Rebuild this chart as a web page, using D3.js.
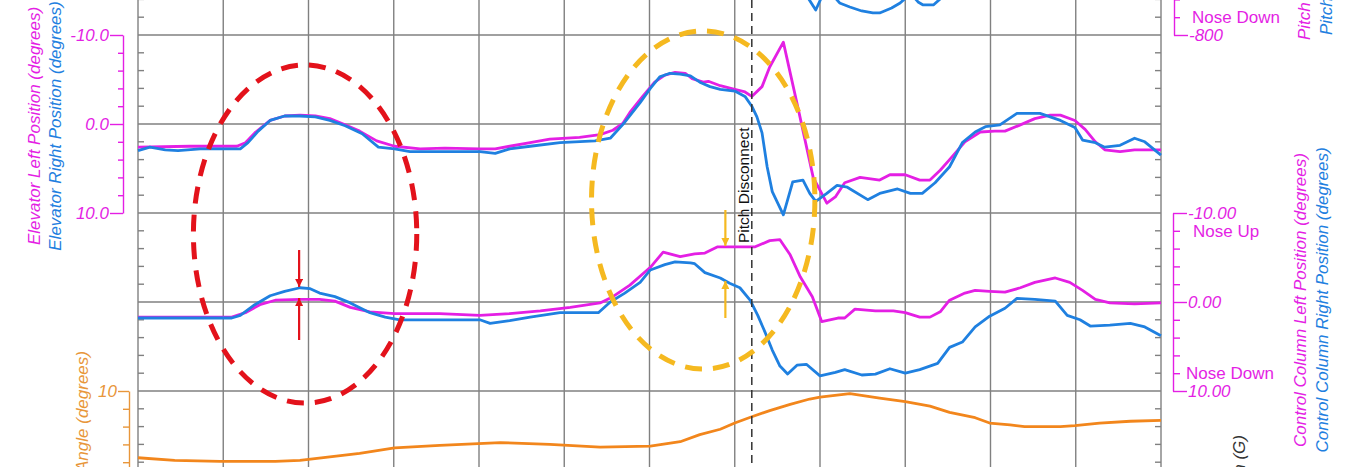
<!DOCTYPE html>
<html>
<head>
<meta charset="utf-8">
<script src="https://cdn.jsdelivr.net/npm/d3@7"></script>
<style>
  body { margin: 0; background: #fff; overflow: hidden; }
  svg text { font-family: "Liberation Sans", Arial, sans-serif; }
</style>
</head>
<body>
<script>
// time in seconds (one grid column = 1 s), values in each panel's units
const elevLeft = [[0,2.6],[0.61,2.5],[1.16,2.5],[1.26,2.1],[1.37,1.0],[1.55,-0.4],[1.72,-0.9],[1.90,-1.0],[2.08,-0.9],[2.25,-0.6],[2.43,0.1],[2.60,0.8],[2.80,1.9],[3.01,2.5],[3.31,2.8],[3.60,2.7],[4.01,2.8],[4.19,2.8],[4.36,2.5],[4.60,2.1],[4.83,1.7],[5.18,1.5],[5.42,1.2],[5.57,0.7],[5.69,-0.1],[5.77,-1.3],[5.92,-3.1],[6.06,-4.7],[6.18,-5.5],[6.30,-5.8],[6.42,-5.7],[6.50,-5.1],[6.63,-4.7],[6.69,-4.8],[6.83,-4.3],[7.00,-3.9],[7.12,-3.6],[7.20,-3.1],[7.32,-4.2],[7.41,-6.4],[7.57,-9.2],[7.74,-1.9],[7.92,6.0],[8.08,8.9],[8.18,8.2],[8.29,6.6],[8.47,6.0],[8.70,6.3],[8.82,5.7],[9.00,5.7],[9.17,6.3],[9.29,6.3],[9.41,5.2],[9.52,4.0],[9.70,2.0],[9.88,0.9],[10.05,0.8],[10.17,0.8],[10.35,0.1],[10.52,-0.6],[10.70,-1.0],[10.82,-1.0],[10.99,-0.4],[11.11,0.6],[11.23,2.0],[11.34,2.9],[11.52,3.1],[11.69,2.9],[12.00,2.9]];

const elevRight = [[0,3.0],[0.14,2.6],[0.32,2.9],[0.47,3.0],[0.73,2.8],[1.20,2.8],[1.29,2.1],[1.41,0.8],[1.55,-0.4],[1.72,-0.9],[1.90,-0.9],[2.08,-0.8],[2.25,-0.4],[2.43,0.2],[2.63,1.1],[2.82,2.6],[3.01,2.8],[3.19,3.1],[3.54,3.1],[4.01,3.1],[4.19,3.3],[4.36,2.8],[4.60,2.5],[4.95,2.1],[5.36,1.9],[5.54,1.6],[5.71,-0.2],[5.89,-2.4],[6.01,-4.0],[6.12,-5.3],[6.24,-5.7],[6.36,-5.6],[6.48,-5.4],[6.59,-4.7],[6.71,-4.2],[6.83,-3.9],[7.00,-3.7],[7.12,-3.1],[7.20,-2.0],[7.26,-0.8],[7.32,1.0],[7.38,4.8],[7.44,7.6],[7.57,10.2],[7.68,6.5],[7.80,6.3],[7.88,7.8],[7.95,8.7],[8.08,7.8],[8.20,6.9],[8.32,7.1],[8.56,8.5],[8.70,7.8],[8.91,7.3],[9.06,7.8],[9.20,7.8],[9.35,6.6],[9.52,4.8],[9.67,2.1],[9.82,0.9],[9.94,0.3],[10.11,0.1],[10.31,-1.2],[10.58,-1.2],[10.82,-0.4],[10.99,0.4],[11.08,1.8],[11.23,2.1],[11.34,2.6],[11.52,2.4],[11.69,1.6],[11.81,2.0],[12.00,3.5]];

const colLeft = [[0,1.7],[0.49,1.7],[1.10,1.7],[1.26,1.2],[1.43,0.3],[1.61,-0.2],[1.90,-0.3],[2.13,-0.3],[2.31,-0.1],[2.49,0.6],[2.72,1.1],[3.01,1.3],[3.54,1.3],[4.01,1.5],[4.36,1.3],[4.72,1.0],[5.07,0.6],[5.42,0.1],[5.57,-0.6],[5.77,-1.9],[6.01,-3.9],[6.16,-5.6],[6.36,-5.1],[6.53,-5.4],[6.65,-5.5],[6.80,-6.2],[7.24,-6.2],[7.41,-6.9],[7.53,-7.0],[7.65,-5.3],[7.77,-2.8],[7.91,-0.6],[8.02,2.2],[8.21,1.8],[8.29,1.8],[8.41,0.8],[8.65,1.0],[8.86,1.0],[9.00,1.2],[9.17,1.7],[9.29,1.7],[9.41,1.1],[9.52,-0.2],[9.70,-1.0],[9.82,-1.3],[9.99,-1.2],[10.17,-1.1],[10.35,-1.6],[10.52,-2.2],[10.76,-2.7],[10.93,-2.2],[11.08,-1.3],[11.23,-0.3],[11.40,0.1],[11.69,0.2],[12.00,0.1]];

const colRight = [[0,1.8],[1.10,1.8],[1.20,1.5],[1.37,0.3],[1.55,-0.7],[1.72,-1.2],[1.90,-1.6],[2.02,-1.5],[2.13,-1.0],[2.31,-0.6],[2.49,0.1],[2.72,1.2],[2.90,1.7],[3.07,2.0],[3.66,2.0],[4.01,2.0],[4.13,2.4],[4.36,2.1],[4.60,1.7],[4.95,1.2],[5.40,1.2],[5.54,0.0],[5.71,-1.0],[5.89,-2.2],[6.01,-3.6],[6.18,-4.2],[6.30,-4.5],[6.48,-4.4],[6.53,-4.3],[6.65,-3.3],[6.83,-2.7],[6.94,-2.1],[7.06,-1.6],[7.18,-0.2],[7.27,1.5],[7.36,3.5],[7.44,5.4],[7.53,7.2],[7.62,8.1],[7.73,7.1],[7.84,7.0],[8.00,8.3],[8.18,7.9],[8.29,7.6],[8.49,8.2],[8.65,8.1],[8.82,7.5],[9.00,8.0],[9.17,7.6],[9.38,6.9],[9.52,5.1],[9.67,4.5],[9.82,2.8],[9.99,1.6],[10.17,0.7],[10.31,-0.4],[10.52,-0.3],[10.76,-0.1],[10.90,1.5],[11.05,2.0],[11.17,2.7],[11.40,2.6],[11.64,2.4],[11.81,2.8],[12.00,3.8]];

const pitchAngle = [[0,2.5],[0.43,2.2],[0.96,2.1],[1.61,2.1],[1.90,2.2],[2.25,2.6],[2.60,3.0],[3.01,3.6],[3.54,3.9],[4.25,4.2],[4.83,4.0],[5.42,3.7],[6.01,3.8],[6.36,4.3],[6.59,5.1],[6.83,5.7],[7.00,6.4],[7.20,7.1],[7.41,7.8],[7.65,8.5],[7.88,9.1],[8.00,9.3],[8.35,9.7],[8.70,9.2],[9.00,8.8],[9.29,8.3],[9.52,7.6],[9.82,7.0],[9.99,6.4],[10.23,6.2],[10.40,6.0],[10.82,6.0],[10.99,6.1],[11.28,6.4],[11.64,6.6],[12.00,6.7]];

// only the lowest part of this trace shows at the top edge
const pitchForceRight = [[7.65,-261],[7.77,-377],[7.86,-467],[7.95,-575],[8.02,-458],[8.14,-431],[8.23,-512],[8.35,-548],[8.49,-584],[8.62,-602],[8.70,-602],[8.84,-557],[8.94,-512],[9.02,-458],[9.08,-440],[9.15,-503],[9.21,-530],[9.33,-530],[9.41,-476],[9.50,-395],[9.64,-261]];

const disconnectTime = 7.20;
const elevTicks = [-10, 0, 10];
const colTicks = [-10, 0, 10];
const angleTicks = [10];
const forceTicks = [-800];

const magenta = '#e41fe4', blue = '#1f80e0', orange = '#f2861c', orangeText = '#e8963a';
const red = '#e3121b', gold = '#f5b920';

const W = 1358, H = 467;
const svg = d3.select('body').append('svg').attr('width', W).attr('height', H);

const x = d3.scaleLinear().domain([0, 12]).range([138, 1161]);
const yElev = d3.scaleLinear().domain([-10, 10]).range([35, 213]);
const yCol = d3.scaleLinear().domain([-10, 10]).range([213, 391]);
const yAng = d3.scaleLinear().domain([0, 10]).range([480, 391]);
const yForce = d3.scaleLinear().domain([-800, 0]).range([35, -54]);

// grid
const grid = svg.append('g').attr('stroke', '#808080').attr('stroke-width', 1.4);
grid.selectAll('.vg').data(d3.range(0, 13)).enter().append('line')
    .attr('x1', d => x(d)).attr('x2', d => x(d)).attr('y1', 0).attr('y2', H);
grid.selectAll('.hg').data(d3.range(-20, 41, 10)).enter().append('line')
    .attr('x1', x(0)).attr('x2', x(12)).attr('y1', d => yElev(d)).attr('y2', d => yElev(d));

// small inner ticks on the frame
const minor = d3.range(-20, 41, 2).filter(d => d % 10 !== 0);
grid.selectAll('.tl').data(minor).enter().append('line')
    .attr('x1', x(0)).attr('x2', x(0) + 6).attr('y1', d => yElev(d)).attr('y2', d => yElev(d));
grid.selectAll('.tr').data(minor).enter().append('line')
    .attr('x1', x(12)).attr('x2', x(12) - 6).attr('y1', d => yElev(d)).attr('y2', d => yElev(d));

function styleAxis(g, col, labelTicks, longLen, side) {
    g.attr('color', col).attr('font-size', null).attr('font-family', null);
    g.select('.domain').attr('stroke-width', 1.4);
    g.selectAll('.tick line').attr('stroke-width', 1.4);
    g.selectAll('.tick').filter(d => labelTicks.indexOf(d) > -1).select('line')
        .attr('x2', side * longLen);
    g.selectAll('.tick text')
        .attr('x', side * (longLen + 1))
        .attr('dy', '0.35em')
        .style('font-size', '17px')
        .style('font-style', 'italic');
}

// elevator axis
const gElev = svg.append('g').attr('transform', 'translate(123,0)')
    .call(d3.axisLeft(yElev).tickValues(d3.range(-10, 11, 2)).tickSize(5).tickSizeOuter(0)
        .tickFormat(d => elevTicks.indexOf(d) > -1 ? d.toFixed(1) : ''));
styleAxis(gElev, magenta, elevTicks, 13, -1);

// control column axis
const gCol = svg.append('g').attr('transform', 'translate(1173,0)')
    .call(d3.axisRight(yCol).tickValues(d3.range(-10, 11, 2)).tickSize(7).tickSizeOuter(0)
        .tickFormat(d => colTicks.indexOf(d) > -1 ? d.toFixed(2) : ''));
styleAxis(gCol, magenta, colTicks, 14, 1);

// pitch force axis (top right)
const gForce = svg.append('g').attr('transform', 'translate(1174,0)')
    .call(d3.axisRight(yForce).tickValues(d3.range(-800, 1, 160)).tickSize(6).tickSizeOuter(0)
        .tickFormat(d => forceTicks.indexOf(d) > -1 ? d : ''));
styleAxis(gForce, magenta, forceTicks, 14, 1);

// pitch angle axis
const gAng = svg.append('g').attr('transform', 'translate(129,0)')
    .call(d3.axisLeft(yAng).tickValues(d3.range(0, 11, 2)).tickSize(6).tickSizeOuter(0)
        .tickFormat(d => angleTicks.indexOf(d) > -1 ? d : ''));
styleAxis(gAng, orangeText, angleTicks, 11, -1);

// nose up / down words
const words = [
    {t: 'Nose Down', x: 1192, y: yForce(-640)},
    {t: 'Nose Up', x: 1193, y: yCol(-8)},
    {t: 'Nose Down', x: 1186, y: yCol(8)}
];
svg.selectAll('.nose').data(words).enter().append('text')
    .attr('x', d => d.x).attr('y', d => d.y).attr('dy', '0.35em')
    .attr('fill', magenta).style('font-size', '17px')
    .text(d => d.t);

// rotated axis titles
const titles = [
    {t: 'Elevator Left Position (degrees)', x: 40, y: 126, c: magenta, a: 'middle'},
    {t: 'Elevator Right Position (degrees)', x: 61, y: 126, c: blue, a: 'middle'},
    {t: 'Control Column Left Position (degrees)', x: 1306, y: 300, c: magenta, a: 'middle'},
    {t: 'Control Column Right Position (degrees)', x: 1328, y: 300, c: blue, a: 'middle'},
    {t: 'Pitch Control Force Left (lbs)', x: 1310, y: 40, c: magenta, a: 'start'},
    {t: 'Pitch Control Force Right (lbs)', x: 1332, y: 35, c: blue, a: 'start'},
    {t: 'Pitch Angle (degrees)', x: 88, y: 351, c: orangeText, a: 'end'},
    {t: 'Vertical Acceleration (G)', x: 1245, y: 435, c: '#333', a: 'end'}
];
svg.selectAll('.title').data(titles).enter().append('text')
    .attr('transform', d => 'translate(' + d.x + ',' + d.y + ') rotate(-90)')
    .attr('text-anchor', d => d.a)
    .attr('fill', d => d.c)
    .style('font-size', '17px').style('font-style', 'italic')
    .text(d => d.t);

// data lines
const series = [
    {data: pitchAngle, y: yAng, c: orange},
    {data: pitchForceRight, y: yForce, c: blue},
    {data: elevLeft, y: yElev, c: magenta},
    {data: elevRight, y: yElev, c: blue},
    {data: colLeft, y: yCol, c: magenta},
    {data: colRight, y: yCol, c: blue}
];
series.forEach(function (s) {
    svg.append('path')
        .datum(s.data)
        .attr('fill', 'none')
        .attr('stroke', s.c)
        .attr('stroke-width', 2.8)
        .attr('stroke-linejoin', 'round')
        .attr('d', d3.line().x(d => x(d[0])).y(d => s.y(d[1])));
});

// pitch disconnect marker
svg.append('line')
    .attr('x1', x(disconnectTime)).attr('x2', x(disconnectTime))
    .attr('y1', 0).attr('y2', H)
    .attr('stroke', '#333').attr('stroke-width', 1.5).attr('stroke-dasharray', '8,5');
svg.append('text')
    .attr('transform', 'translate(' + (x(disconnectTime) - 3) + ',243) rotate(-90)')
    .attr('fill', '#111').style('font-size', '15.5px')
    .text('Pitch Disconnect');

// annotations: dashed ellipses and arrows
const circles = [
    {t: 1.96, v: -7.64, c: red},
    {t: 6.63, v: -11.46, c: gold}
];
svg.selectAll('.ring').data(circles).enter().append('ellipse')
    .attr('cx', d => x(d.t)).attr('cy', d => yCol(d.v))
    .attr('rx', x(1.31) - x(0)).attr('ry', yCol(19) - yCol(0))
    .attr('fill', 'none').attr('stroke', d => d.c)
    .attr('stroke-width', 5).attr('stroke-dasharray', '17,11');

const defs = svg.append('defs');
[['arRed', red], ['arGold', gold]].forEach(function (m) {
    defs.append('marker').attr('id', m[0])
        .attr('viewBox', '0 0 10 10').attr('refX', 10).attr('refY', 5)
        .attr('markerWidth', 11).attr('markerHeight', 8)
        .attr('markerUnits', 'userSpaceOnUse').attr('orient', 'auto')
        .append('path').attr('d', 'M0,0 L10,5 L0,10 z').attr('fill', m[1]);
});
const arrows = [
    {t: 1.89, from: -5.84, to: -1.69, c: red, m: 'arRed'},
    {t: 1.89, from: 4.27, to: -0.45, c: red, m: 'arRed'},
    {t: 6.89, from: -10.34, to: -6.29, c: gold, m: 'arGold'},
    {t: 6.89, from: 1.80, to: -2.36, c: gold, m: 'arGold'}
];
svg.selectAll('.arrow').data(arrows).enter().append('line')
    .attr('x1', d => x(d.t)).attr('x2', d => x(d.t))
    .attr('y1', d => yCol(d.from)).attr('y2', d => yCol(d.to))
    .attr('stroke', d => d.c).attr('stroke-width', 2.2)
    .attr('marker-end', d => 'url(#' + d.m + ')');
</script>
</body>
</html>
